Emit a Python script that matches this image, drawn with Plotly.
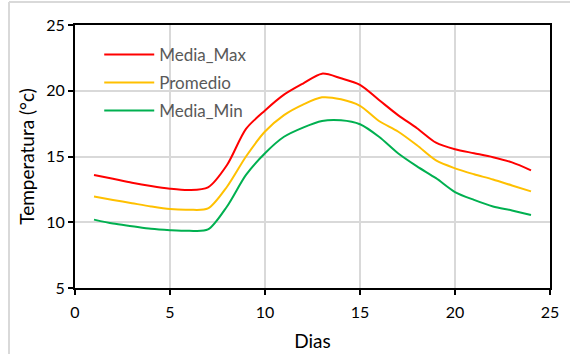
import plotly.graph_objects as go

dias = list(range(1, 25))
media_max = [13.6, 13.3, 13.0, 12.75, 12.55, 12.45, 12.65, 14.35, 17.1, 18.5, 19.7, 20.55,
             21.3, 20.95, 20.45, 19.3, 18.15, 17.15, 16.05, 15.55, 15.25, 14.95, 14.55, 13.95]
promedio = [11.95, 11.7, 11.45, 11.2, 11.0, 10.95, 11.05, 12.7, 15.0, 16.9, 18.15, 18.95,
            19.5, 19.35, 18.85, 17.7, 16.9, 15.85, 14.7, 14.1, 13.65, 13.25, 12.8, 12.35]
media_min = [10.2, 9.9, 9.7, 9.5, 9.4, 9.35, 9.45, 11.2, 13.6, 15.25, 16.5, 17.2,
             17.7, 17.75, 17.45, 16.5, 15.25, 14.25, 13.35, 12.3, 11.7, 11.2, 10.9, 10.55]

series = [("Media_Max", media_max, "#FF0000"),
          ("Promedio", promedio, "#FFC000"),
          ("Media_Min", media_min, "#00B050")]

FONT = "Lato"
fig = go.Figure()
for i, (name, vals, col) in enumerate(series):
    fig.add_trace(go.Scatter(x=dias, y=vals, name=name, mode="lines", legendgroup=f"g{i}",
                             line=dict(color=col, width=2, shape="spline", smoothing=0.8)))

axis_common = dict(showline=True, linecolor="black", linewidth=2, mirror=True,
                   showgrid=True, gridcolor="#D9D9D9", gridwidth=1.5,
                   ticks="outside", ticklen=5, tickcolor="black", tickwidth=1.5,
                   zeroline=False, automargin=False,
                   tickfont=dict(family=FONT, size=16, color="black"))

fig.update_layout(
    width=570, height=354,
    margin=dict(l=75, r=20, t=25, b=66),
    paper_bgcolor="white", plot_bgcolor="white",
    font=dict(family=FONT, color="black"),
    xaxis=dict(range=[0, 25], dtick=5, ticklabelstandoff=4,
               title=dict(text="Dias", font=dict(family=FONT, size=19), standoff=14),
               **axis_common),
    yaxis=dict(range=[5, 25], dtick=5,
               title=dict(text="Temperatura (°c)", font=dict(family=FONT, size=19), standoff=7),
               **axis_common),
    legend=dict(x=0.051, y=0.955, xanchor="left", yanchor="top", tracegroupgap=3,
                bgcolor="rgba(0,0,0,0)", font=dict(family=FONT, size=17, color="#595959"),
                itemwidth=50),
    showlegend=True,
)

# light grey chart-area frame
fig.add_shape(type="line", xref="paper", yref="paper",
              x0=(9 - 75) / 475, x1=1.1, y0=1 + 23 / 263, y1=1 + 23 / 263,
              line=dict(color="#D9D9D9", width=2))
fig.add_shape(type="line", xref="paper", yref="paper",
              x0=(9 - 75) / 475, x1=(9 - 75) / 475, y0=-0.3, y1=1 + 23 / 263,
              line=dict(color="#D9D9D9", width=2))

fig.write_html("out.html", config={"displayModeBar": False},
               post_script="document.body.style.margin='0';")
